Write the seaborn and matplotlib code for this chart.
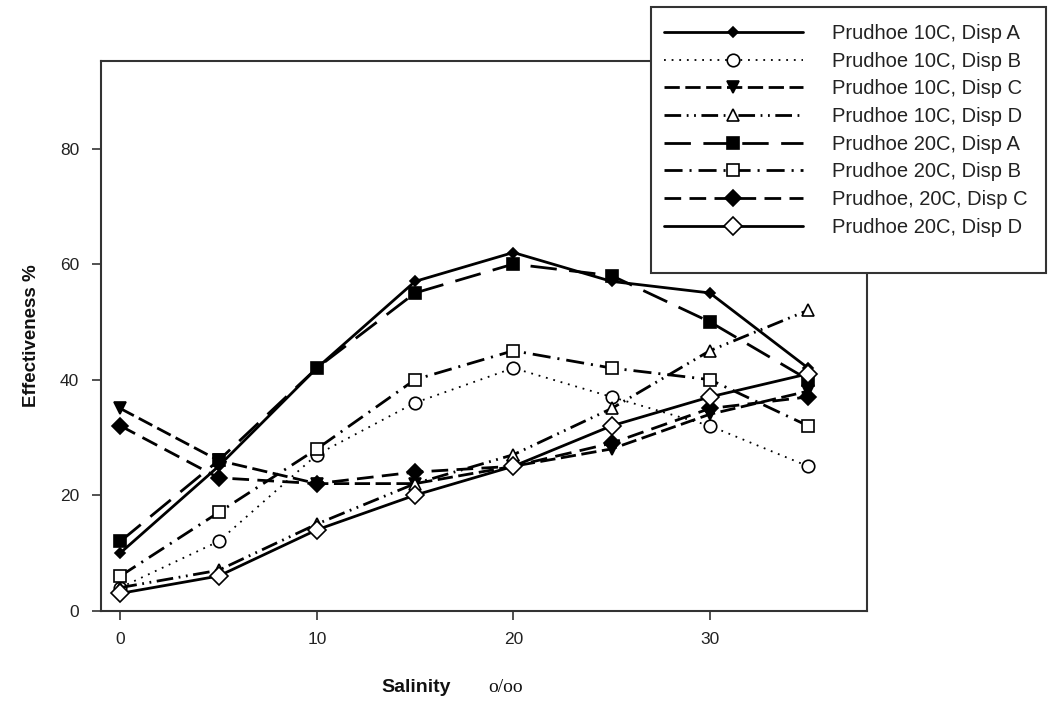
import matplotlib
matplotlib.use("Agg")
import matplotlib.pyplot as plt
from matplotlib.patches import Rectangle
import seaborn as sns
import pandas as pd

# ---- data ----
salinity = [0, 5, 10, 15, 20, 25, 30, 35]
p10_a = [10, 25, 42, 57, 62, 57, 55, 42]
p10_b = [4, 12, 27, 36, 42, 37, 32, 25]
p10_c = [35, 26, 22, 22, 25, 28, 34, 38]
p10_d = [4, 7, 15, 22, 27, 35, 45, 52]
p20_a = [12, 26, 42, 55, 60, 58, 50, 40]
p20_b = [6, 17, 28, 40, 45, 42, 40, 32]
p20_c = [32, 23, 22, 24, 25, 29, 35, 37]
p20_d = [3, 6, 14, 20, 25, 32, 37, 41]
labels = ["Prudhoe 10C, Disp A", "Prudhoe 10C, Disp B", "Prudhoe 10C, Disp C",
          "Prudhoe 10C, Disp D", "Prudhoe 20C, Disp A", "Prudhoe 20C, Disp B",
          "Prudhoe, 20C, Disp C", "Prudhoe 20C, Disp D"]
series = [p10_a, p10_b, p10_c, p10_d, p20_a, p20_b, p20_c, p20_d]
x_ticks = [0, 10, 20, 30]
y_ticks = [0, 20, 40, 60, 80]

sns.set_theme(style="white")
plt.rcParams["font.family"] = ["Liberation Sans", "DejaVu Sans"]
plt.rcParams["lines.scale_dashes"] = False

# style per series: (linestyle, linewidth, marker, markersize, filled)
styles = [
    ("-", 2.0, "D", 5.0, True),
    ((0, (1.3, 4.2)), 1.3, "o", 9.0, False),
    ((0, (11, 4)), 2.0, "v", 9.0, True),
    ((0, (12, 4, 1.3, 4, 1.3, 4)), 2.0, "^", 9.0, False),
    ((0, (19, 9)), 2.0, "s", 9.0, True),
    ((0, (13, 5, 1.5, 5)), 2.0, "s", 9.0, False),
    ((0, (12, 6)), 2.0, "D", 8.5, True),
    ("-", 2.0, "D", 9.5, False),
]

fig = plt.figure(figsize=(10.49, 7.04), dpi=100)
ax = fig.add_axes([100.7 / 1049, 1 - 610.7 / 704, (867 - 100.7) / 1049, (610.7 - 60.7) / 704])

for lab, vals, (ls, lw, mk, ms, filled) in zip(labels, series, styles):
    d = pd.DataFrame({"salinity": salinity, "eff": vals})
    sns.lineplot(data=d, x="salinity", y="eff", ax=ax, color="black", label=lab,
                 marker=mk, markersize=ms, markeredgecolor="black",
                 markerfacecolor="black" if filled else "white",
                 markeredgewidth=1.2, linewidth=lw, legend=False)
    ax.lines[-1].set_linestyle(ls)

ax.set_xlim(-1, 38)
ax.set_ylim(0, 95.2)
ax.set_xticks(x_ticks)
ax.set_yticks(y_ticks)
ax.tick_params(axis="both", which="major", direction="out", length=6.5, width=1.2,
               color="#333333", labelsize=12.5, labelcolor="#222222",
               bottom=True, left=True, pad=9)
for s in ax.spines.values():
    s.set_visible(True)
    s.set_color("#333333")
    s.set_linewidth(1.5)
ax.set_xlabel("")
ax.set_ylabel("Effectiveness %", fontsize=13.5, fontweight="bold", labelpad=14, color="#111111")

fig.text(416 / 1049, 1 - 688 / 704, "Salinity", fontsize=14, fontweight="bold",
         ha="center", va="center", color="#111111")
fig.text(506 / 1049, 1 - 688 / 704, "o/oo", fontsize=14, ha="center", va="center",
         color="#111111", family=["Liberation Serif", "DejaVu Serif"])

# legend box (white, on top of the axes frame)
rect = Rectangle((651 / 1049, 1 - 273 / 704), (1046 - 651) / 1049, (273 - 7) / 704,
                 transform=fig.transFigure, facecolor="white", edgecolor="#333333",
                 linewidth=1.5, zorder=5)
fig.add_artist(rect)
handles, labs = ax.get_legend_handles_labels()
leg = fig.legend(handles, labs, loc="upper left",
                 bbox_to_anchor=(664 / 1049, 1 - 24 / 704),
                 frameon=False, fontsize=14.5, handlelength=6.9, handletextpad=1.45,
                 labelspacing=0.43, borderpad=0, borderaxespad=0, numpoints=1)
leg.set_zorder(6)
for t in leg.get_texts():
    t.set_color("#222222")

fig.savefig("out.png", dpi=100)
